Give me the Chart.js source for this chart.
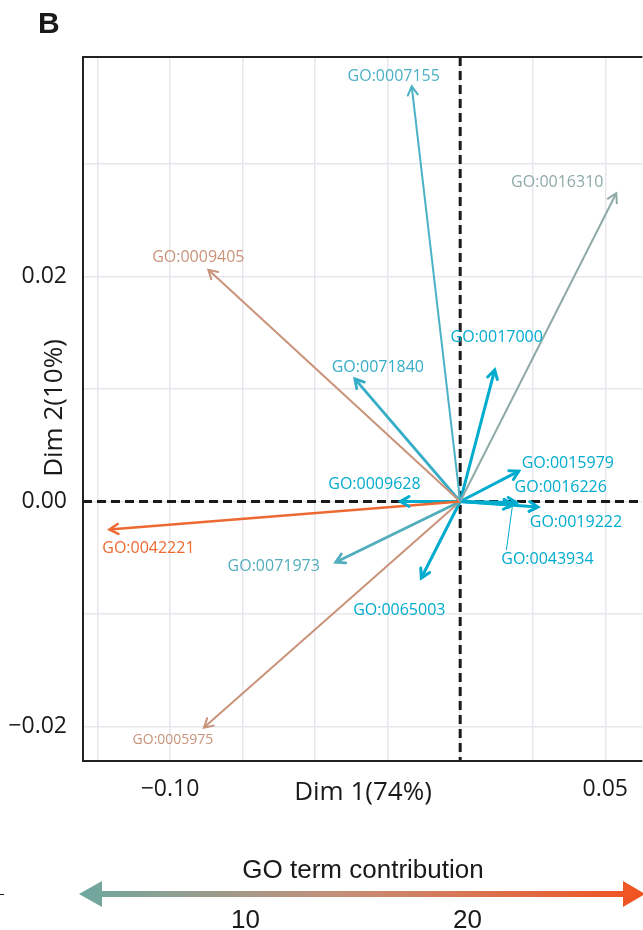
<!DOCTYPE html>
<html>
<head>
<meta charset="utf-8">
<script src="https://cdn.jsdelivr.net/npm/chart.js@4.4.1/dist/chart.umd.min.js"></script>
<style>
  html, body { margin: 0; padding: 0; background: #fff; overflow: hidden; }
  canvas { display: block; }
</style>
</head>
<body>
<canvas id="pca" width="643" height="930"></canvas>
<script>
// GO terms and their coordinates on the first two dimensions
const goTerms = ['GO:0007155', 'GO:0016310', 'GO:0009405', 'GO:0042221', 'GO:0071973',
                 'GO:0005975', 'GO:0065003', 'GO:0009628', 'GO:0071840', 'GO:0017000',
                 'GO:0015979', 'GO:0016226', 'GO:0019222', 'GO:0043934'];
const dim1 = [-0.0167, 0.0538, -0.0868, -0.1209, -0.0429,
              -0.0883, -0.0134, -0.0206, -0.0363, 0.0119,
              0.0202, 0.0195, 0.0268, 0.0180];
const dim2 = [0.0369, 0.0274, 0.0206, -0.0025, -0.0054,
              -0.0201, -0.0068, 0.0000, 0.0109, 0.0117,
              0.0027, -0.0001, -0.0005, -0.0003];

// tick labels
const xTickValues = [-0.10, 0.05];
const xTickText = ['\u22120.10', '0.05'];
const yTickValues = [-0.02, 0.00, 0.02];
const yTickText = ['\u22120.02', '0.00', '0.02'];
const legendTicks = [10, 20];

// styles (kept apart from the values)
const cyan = '#00acce';
const arrowColors = ['#4bb1c4', '#8eaaa7', '#c9937a', '#ec6a32', '#52adbd',
                     '#c9937a', cyan, cyan, '#35adc6', cyan,
                     cyan, cyan, cyan, cyan];
const arrowWidths = [2, 2, 2, 2.5, 2.8, 2, 3, 3, 2.8, 3, 3, 3, 3, 3];
// label offsets from the arrow tip, in pixels (repelled labels)
const labelOffsets = [[-18, -10], [-59, -11], [-10, -12], [39, 19], [-62, 4],
                      [-31, 12], [-22, 32], [-26, -17], [23, -11], [2, -32],
                      [49, -8], [44, -15], [38, 15], [35, 55]];
const labelSizes = [16, 16, 16, 16, 16, 14, 16, 16, 16, 16, 16, 16, 16, 16];

const datasets = goTerms.map((t, i) => ({
  label: t,
  data: [{x: 0, y: 0}, {x: dim1[i], y: dim2[i]}],
  showLine: true,
  borderColor: arrowColors[i],
  borderWidth: arrowWidths[i],
  pointRadius: 0,
  borderCapStyle: 'butt'
}));

const near = (v, arr) => arr.findIndex(a => Math.abs(a - v) < 1e-6);

const arrowPlugin = {
  id: 'arrows',
  beforeDatasetsDraw(chart) {
    const {ctx, chartArea: a, scales: {x, y}} = chart;
    const x0 = x.getPixelForValue(0), y0 = y.getPixelForValue(0);
    ctx.save();
    ctx.strokeStyle = '#1a1a1a';
    ctx.lineWidth = 3;
    ctx.setLineDash([9, 5]);
    ctx.beginPath();
    ctx.moveTo(a.left, y0); ctx.lineTo(a.right, y0);
    ctx.moveTo(x0, a.top); ctx.lineTo(x0, a.bottom);
    ctx.stroke();
    ctx.restore();
  },
  afterDatasetsDraw(chart) {
    const {ctx, chartArea: a, scales: {x, y}} = chart;
    const ox = x.getPixelForValue(0), oy = y.getPixelForValue(0);
    ctx.save();
    // arrow heads
    goTerms.forEach((t, i) => {
      const tx = x.getPixelForValue(dim1[i]), ty = y.getPixelForValue(dim2[i]);
      const ang = Math.atan2(ty - oy, tx - ox);
      const L = 10, s = Math.PI / 6;
      ctx.strokeStyle = arrowColors[i];
      ctx.lineWidth = arrowWidths[i];
      ctx.lineCap = 'round';
      ctx.beginPath();
      ctx.moveTo(tx - L * Math.cos(ang - s), ty - L * Math.sin(ang - s));
      ctx.lineTo(tx, ty);
      ctx.lineTo(tx - L * Math.cos(ang + s), ty - L * Math.sin(ang + s));
      ctx.stroke();
    });
    // labels
    ctx.textAlign = 'center';
    ctx.textBaseline = 'middle';
    goTerms.forEach((t, i) => {
      const tx = x.getPixelForValue(dim1[i]), ty = y.getPixelForValue(dim2[i]);
      const lx = tx + labelOffsets[i][0], ly = ty + labelOffsets[i][1];
      ctx.fillStyle = arrowColors[i];
      ctx.font = labelSizes[i] + 'px "Open Sans"';
      ctx.fillText(t, lx, ly);
      if (t === 'GO:0043934') {
        ctx.strokeStyle = arrowColors[i];
        ctx.lineWidth = 1;
        ctx.beginPath();
        ctx.moveTo(tx, ty + 1);
        ctx.lineTo(lx - 41, ly - 10);
        ctx.stroke();
      }
    });
    // panel border (right side is cropped off)
    ctx.strokeStyle = '#222';
    ctx.lineWidth = 2;
    ctx.lineCap = 'butt';
    ctx.beginPath();
    ctx.moveTo(a.right, a.top); ctx.lineTo(a.left, a.top);
    ctx.lineTo(a.left, a.bottom); ctx.lineTo(a.right, a.bottom);
    ctx.stroke();

    // axis titles
    ctx.fillStyle = '#1a1a1a';
    ctx.font = '26px "Open Sans"';
    ctx.textBaseline = 'alphabetic';
    ctx.fillText('Dim 1(74%)', 363, 800);
    ctx.save();
    ctx.translate(62, 408);
    ctx.rotate(-Math.PI / 2);
    ctx.fillText('Dim 2(10%)', 0, 0);
    ctx.restore();

    // panel letter
    ctx.textAlign = 'left';
    ctx.font = 'bold 30px "Liberation Sans"';
    ctx.fillText('B', 38, 33);

    // contribution legend
    const lx0 = 79, lx1 = 645, cMin = 2.5, cMax = 28, ly = 894;
    const cPix = v => lx0 + (v - cMin) / (cMax - cMin) * (lx1 - lx0);
    const grad = ctx.createLinearGradient(lx0, 0, lx1, 0);
    grad.addColorStop(0, '#6da89f');
    grad.addColorStop(0.45, '#c4907a');
    grad.addColorStop(1, '#f2521f');
    ctx.fillStyle = grad;
    ctx.fillRect(lx0 + 20, ly - 3, lx1 - lx0 - 40, 6);
    ctx.beginPath();
    ctx.moveTo(lx0, ly); ctx.lineTo(lx0 + 23, ly - 13); ctx.lineTo(lx0 + 23, ly + 13); ctx.closePath();
    ctx.fill();
    ctx.beginPath();
    ctx.moveTo(lx1, ly); ctx.lineTo(lx1 - 22, ly - 13); ctx.lineTo(lx1 - 22, ly + 13); ctx.closePath();
    ctx.fill();
    ctx.fillStyle = '#1a1a1a';
    ctx.textAlign = 'center';
    ctx.font = '26px "Liberation Sans"';
    ctx.fillText('GO term contribution', 363, 878);
    legendTicks.forEach(v => ctx.fillText(String(v), cPix(v), 928));
    ctx.fillRect(0, ly, 4, 1);
    ctx.restore();
  }
};

const gridColor = '#e7e7ed';

new Chart(document.getElementById('pca'), {
  type: 'scatter',
  data: {datasets: datasets},
  options: {
    responsive: false,
    animation: false,
    layout: {padding: {top: 57, left: 0, right: 0, bottom: 0}},
    plugins: {legend: {display: false}, tooltip: {enabled: false}},
    scales: {
      x: {
        type: 'linear',
        min: -0.13, max: 0.0628,
        border: {display: false},
        grid: {color: gridColor, lineWidth: 1.5, drawTicks: false},
        ticks: {
          stepSize: 0.025, includeBounds: false, autoSkip: false, maxRotation: 0,
          padding: 15, color: '#1a1a1a', font: {family: 'Open Sans', size: 23},
          callback: v => { const k = near(v, xTickValues); return k < 0 ? '' : xTickText[k]; }
        },
        afterFit: s => { s.height = 930 - 761; }
      },
      y: {
        type: 'linear',
        min: -0.02307, max: 0.03951,
        border: {display: false},
        grid: {color: gridColor, lineWidth: 1.5, drawTicks: false},
        ticks: {
          stepSize: 0.01, includeBounds: false, autoSkip: false,
          padding: 16, color: '#1a1a1a', font: {family: 'Open Sans', size: 23},
          callback: v => { const k = near(v, yTickValues); return k < 0 ? '' : yTickText[k]; }
        },
        afterFit: s => { s.width = 83; }
      }
    }
  },
  plugins: [arrowPlugin]
});
</script>
</body>
</html>
